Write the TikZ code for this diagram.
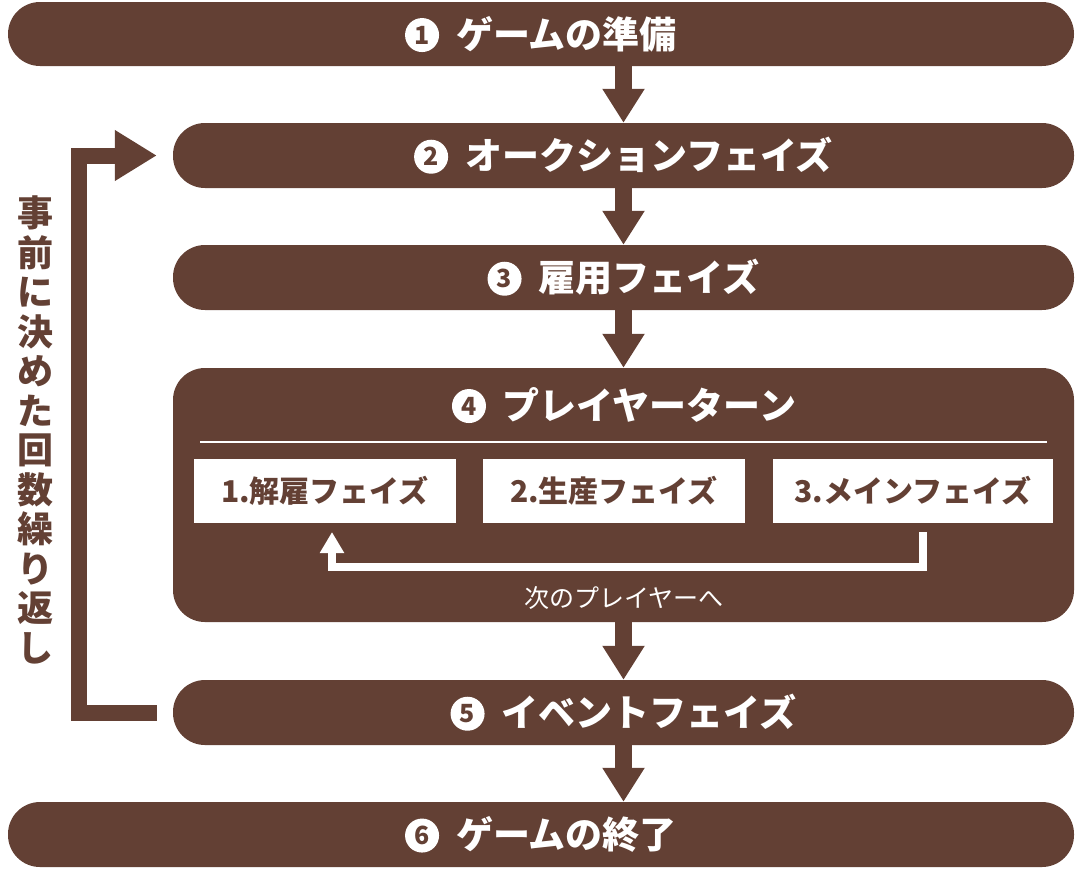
\documentclass[tikz,border=0pt]{standalone}
\usepackage{fontspec}
\setmainfont{Noto Sans CJK JP}
\usetikzlibrary{arrows.meta}
\definecolor{brn}{RGB}{99,64,52}
\newcommand\cnum[1]{\tikz[x=1pt,y=1pt,baseline={(0pt,-13pt)}]\node[circle,draw=none,fill=white,text=brn,inner sep=0pt,minimum size=34pt,font=\fontsize{25}{25}\selectfont\bfseries] (cn#1) at (0pt,0pt) {#1};}
\begin{document}
\begin{tikzpicture}[x=1pt,y=-1pt,
  bar/.style={fill=brn, rounded corners=32pt, inner sep=0pt, minimum height=65pt},
  ttl/.style={text=white, font=\fontsize{37}{37}\selectfont\bfseries, inner sep=0pt},
  subbox/.style={fill=white, minimum height=64pt, inner sep=0pt, text=brn, font=\fontsize{30}{30}\selectfont\bfseries},
  flow/.style={brn, line width=17pt, -{Triangle[width=40pt,length=34pt]}}]
\useasboundingbox (0,0) rectangle (1075,868);
% bars
\node[bar, minimum width=1066pt, minimum height=64pt] (b1) at (541,34) {};
\node[bar, minimum width=901pt] (b2) at (623.5,155.5) {};
\node[bar, minimum width=901pt] (b3) at (623.5,277.5) {};
\node[bar, minimum width=901pt, minimum height=254pt] (b4) at (623.5,495) {};
\node[bar, minimum width=901pt] (b5) at (623.5,712.5) {};
\node[bar, minimum width=1066pt] (b6) at (541,834.5) {};
% titles
\node[ttl] (t1) at (b1) {\cnum{1}\hspace{17pt}ゲームの準備};
\node[ttl] (t2) at (b2) {\cnum{2}\hspace{17pt}オークションフェイズ};
\node[ttl] (t3) at (b3) {\cnum{3}\hspace{17pt}雇用フェイズ};
\node[ttl] (t4) at (624,405) {\cnum{4}\hspace{17pt}プレイヤーターン};
\node[ttl] (t5) at (b5) {\cnum{5}\hspace{17pt}イベントフェイズ};
\node[ttl] (t6) at (b6) {\cnum{6}\hspace{17pt}ゲームの終了};
% separator line
\coordinate (ll) at (200,442);
\coordinate (lr) at (1047,442);
\draw[white, line width=2pt] (ll) -- (lr);
% sub boxes
\node[subbox, minimum width=262pt] (s1) at (325,491) {1.解雇フェイズ};
\node[subbox, minimum width=262pt] (s2) at (614,491) {2.生産フェイズ};
\node[subbox, minimum width=280pt] (s3) at (913,491) {3.メインフェイズ};
% inner loop
\coordinate (ir) at (923,532);
\coordinate (il) at (332,567);
\coordinate (it) at (332,532);
\draw[white, line width=8pt, line join=miter, -{Triangle[width=23pt,length=21pt]}] (ir) |- (il) -- (it);
\node[text=white, font=\fontsize{25}{25}\selectfont, inner sep=0pt] (nx) at (624,598) {次のプレイヤーへ};
% flow arrows
\draw[flow] (b1.south -| b2.north) -- (b2.north);
\draw[flow] (b2.south) -- (b3.north);
\draw[flow] (b3.south) -- (b4.north);
\draw[flow] (b4.south) -- (b5.north);
\draw[flow] (b5.south) -- (b6.north -| b5.south);
% outer loop
\coordinate (lp) at (79,400);
\draw[brn, line width=16pt, line join=miter, -{Triangle[width=48pt,length=42pt]}] ([xshift=-16pt]b5.west) -| (lp) |- ([xshift=-16pt]b2.west);
% vertical label
\node[text=brn, font=\fontsize{36}{39.5}\selectfont\bfseries, align=center, inner sep=0pt] (vt) at (35,430) {事\\前\\に\\決\\め\\た\\回\\数\\繰\\り\\返\\し};
\end{tikzpicture}
\end{document}
